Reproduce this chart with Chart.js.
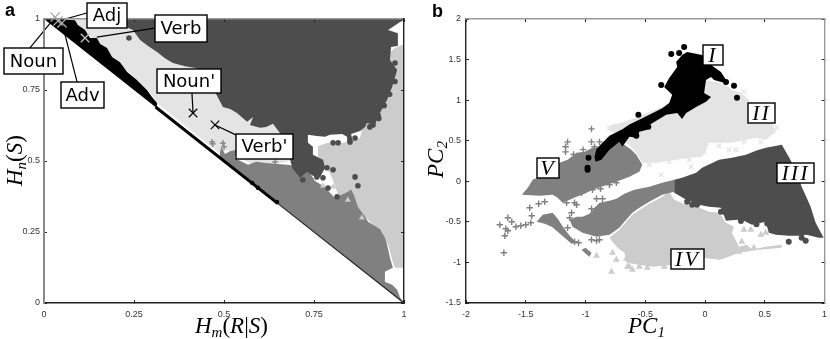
<!DOCTYPE html>
<html>
<head>
<meta charset="utf-8">
<style>
html,body{margin:0;padding:0;background:#fff;width:830px;height:339px;overflow:hidden}
canvas{position:absolute;top:0}
#ca{left:0}
#cb{left:420px}
</style>
<script src="https://cdn.jsdelivr.net/npm/chart.js@4/dist/chart.umd.min.js"></script>
</head>
<body>
<canvas id="ca" width="420" height="339"></canvas>
<canvas id="cb" width="410" height="339"></canvas>
<script>
// ---------- Panel a: values (Hm(R|S), Hn(S)) ----------
const aTicksX = [0, 0.25, 0.5, 0.75, 1];
const aTicksY = [0, 0.25, 0.5, 0.75, 1];
const aRegionI = [[0,1],[.044,1],[.086,.996],[.094,.979],[.114,.961],[.128,.933],[.147,.933],[.156,.912],[.175,.898],[.189,.866],[.211,.848],[.231,.813],[.258,.785],[.286,.75],[.3,.725],[.314,.704],[.314,.686]];
const aStripI = [[.31,.69],[.65,.35]];
const aEdgeLine = [[.65,.35],[1,0]];
const aDotsI = [[.578,.423],[.594,.406],[.647,.356]];
const aRegionII = [[.078,1],[.461,1],[.461,.856],[.683,.627],[.711,.557],[.683,.5],[.636,.487],[.581,.487],[.536,.515],[.506,.539],[.492,.522],[.475,.539],[.314,.704],[.294,.743]];
const aRegionIII = [[.217,1],[.228,.972],[.247,.961],[.267,.926],[.289,.905],[.314,.884],[.336,.862],[.358,.845],[.392,.834],[.425,.827],[.45,.796],[.461,.775],[.481,.729],[.497,.69],[.517,.683],[.536,.669],[.564,.638],[.581,.655],[.572,.627],[.6,.617],[.617,.62],[.636,.631],[.661,.589],[.678,.539],[.689,.476],[.711,.441],[.731,.462],[.747,.448],[.767,.444],[.781,.476],[.775,.504],[.747,.522],[.747,.55],[.733,.564],[.733,.592],[.758,.588],[.781,.585],[.794,.592],[.828,.595],[.842,.585],[.842,.567],[.858,.567],[.853,.595],[.878,.606],[.892,.62],[.897,.634],[.919,.627],[.933,.669],[.953,.715],[.967,.761],[.981,.82],[.961,.856],[.964,.901],[.981,.905],[.983,.95],[.956,.961],[.989,.989],[1,.996],[1,1]];
const aDotsIII = [[.786,.476],[.803,.469],[.719,.434],[.758,.444],[.775,.441],[.789,.405],[.814,.374],[.864,.444],[.872,.413],[.817,.564],[.803,.564],[.85,.567],[.864,.581],[.914,.627],[.928,.662],[.236,.933],[.975,.845],[.975,.78],[.96,.735],[.945,.695],[.93,.65],[.905,.62]];
const aRegionIV = [[1,.912],[.975,.898],[.95,.87],[.95,.8],[.9,.66],[.883,.611],[.878,.581],[.831,.564],[.789,.564],[.761,.553],[.761,.518],[.786,.476],[.8,.441],[.817,.381],[.886,.311],[.933,.251],[.956,.205],[.967,.152],[.975,.124],[1,.124]];
const aTrianglesIV = [[.775,.413],[.803,.409],[.844,.363],[.869,.391],[.883,.3]];
const aRegionV = [[.487,.513],[.492,.55],[.503,.525],[.517,.534],[.536,.54],[.53,.51],[.567,.487],[.589,.497],[.617,.493],[.683,.486],[.711,.469],[.733,.469],[.753,.43],[.778,.41],[.808,.37],[.842,.39],[.853,.4],[.861,.38],[.872,.338],[.894,.3],[.9,.286],[.933,.261],[.947,.23],[.953,.205],[.961,.159],[.969,.124],[.947,.11],[.947,.075],[.967,.064],[.981,.047],[.989,.019],[1,0]];
const aCrossesV = [[.467,.567],[.497,.563],[.642,.497],[.469,.56],[.5,.55]];
const aWordsGrey = [[.031,1.007],[.039,.993],[.05,.986]];
const aWordsLight = [[.114,.933]];
const aWordsBlack = [[.414,.669],[.475,.627]];
const aLeaderNoun = [[.031,1.007],[-.039,.898]];
const aLeaderAdj = [[.039,.993],[.119,1.021]];
const aLeaderAdv = [[.05,.986],[.092,.778]];
const aLeaderVerb = [[.147,.936],[.308,.968]];
const aLeaderNounP = [[.414,.669],[.411,.739]];
const aLeaderVerbP = [[.475,.627],[.533,.592]];
const aLabelNames = ["Noun","Adj","Adv","Verb","Noun'","Verb'"];

// ---------- Panel b: values (PC1, PC2) ----------
const bTicksX = [-2,-1.5,-1,-0.5,0,0.5,1];
const bTicksY = [-1.5,-1,-0.5,0,0.5,1,1.5,2];
const bRegionI = [[-.925,.302],[-.908,.4],[-.8,.56],[-.692,.64],[-.633,.7],[-.492,.8],[-.358,.9],[-.3,.966],[-.275,1.065],[-.342,1.163],[-.3,1.274],[-.233,1.409],[-.242,1.471],[-.192,1.557],[-.15,1.594],[-.025,1.557],[.05,1.434],[.133,1.348],[.175,1.25],[.158,1.213],[.075,1.249],[.05,1.286],[.008,1.249],[-.008,1.089],[.05,1.04],[.008,.979],[-.075,.917],[-.158,.843],[-.192,.769],[-.233,.843],[-.325,.819],[-.467,.695],[-.483,.634],[-.55,.609],[-.567,.535],[-.633,.548],[-.692,.425],[-.717,.486],[-.8,.388],[-.867,.265],[-.917,.24]];
const bDotsI = [[-.175,1.656],[-.283,1.57],[-.217,1.582],[-.367,1.188],[-.558,.819],[.242,1.176],[.267,1.028],[-.975,.289],[-.983,.166],[-.983,.142],[-.475,.671],[-.575,.56],[.175,1.225]];
const bRegionII = [[.008,1.249],[.117,1.213],[.175,1.188],[.225,1.126],[.3,1.09],[.367,1.003],[.392,.843],[.492,.757],[.558,.72],[.592,.609],[.508,.511],[.425,.535],[.342,.511],[.225,.474],[.117,.474],[.033,.474],[0,.363],[-.025,.302],[-.133,.289],[-.242,.265],[-.408,.228],[-.525,.228],[-.575,.351],[-.658,.474],[-.717,.572],[-.817,.634],[-.783,.695],[-.675,.732],[-.217,1.003],[-.05,1.188]];
const bMarksII = [[.383,.302],[.45,.375],[.258,.388],[-.133,.265],[-.117,.179],[-.367,.08],[-.8,.659],[-.717,.671],[.2,.388],[.325,1.102],[.425,.88],[.533,.782],[.6,.659],[.467,.486],[.325,.486],[.117,.437],[-.008,.363],[-.3,.24],[-.467,.203]];
const bRegionIII = [[-.025,.166],[.117,.265],[.225,.289],[.342,.326],[.425,.375],[.508,.412],[.642,.449],[.7,.302],[.758,.142],[.808,-.068],[.85,-.203],[.883,-.314],[.925,-.511],[.992,-.695],[.95,-.695],[.85,-.659],[.783,-.671],[.7,-.671],[.592,-.659],[.533,-.634],[.508,-.499],[.392,-.535],[.325,-.486],[.267,-.474],[.175,-.486],[.133,-.326],[.033,-.314],[-.05,-.289],[-.158,-.228],[-.258,-.142],[-.258,.018],[-.192,.043],[-.075,.105]];
const bDotsIII = [[.7,-.745],[.808,-.695],[.842,-.732],[-.15,-.252],[-.108,-.289],[-.067,-.289],[.017,-.265],[.175,-.388],[.133,-.375],[.3,-.49],[.43,-.53],[.52,-.52]];
const bRegionIV = [[-.3,-.129],[-.258,-.228],[-.158,-.289],[-.05,-.326],[.033,-.375],[.117,-.388],[.175,-.511],[.242,-.56],[.225,-.634],[.283,-.806],[.35,-.782],[.392,-.843],[.508,-.806],[.642,-.782],[.642,-.819],[.45,-.843],[.283,-.88],[.175,-.942],[.117,-.966],[-.025,-.942],[-.05,-1.053],[-.258,-1.028],[-.442,-1.053],[-.55,-1.028],[-.658,-1.003],[-.675,-.88],[-.733,-.819],[-.8,-.696],[-.717,-.597],[-.608,-.412],[-.467,-.277],[-.358,-.191]];
const bTrianglesIV = [[-.908,-.917],[-.783,-1.114],[-.775,-.88],[-.742,-.966],[-.658,-.954],[-.633,-1.053],[-.65,-1.053],[-.608,-1.09],[-.483,-1.065],[.325,-.597],[.383,-.597],[.467,-.659],[.308,-.745],[.408,-.819],[.175,-.868],[.058,-.905],[.508,-.634],[.283,-.868],[-.342,-1.053],[-.55,-1.053]];
const bRegionVTop = [[-1.533,-.166],[-1.483,-.08],[-1.442,.018],[-1.383,.055],[-1.317,.117],[-1.217,.228],[-1.15,.265],[-1.075,.351],[-1.008,.363],[-.942,.412],[-.883,.412],[-.717,.572],[-.675,.449],[-.617,.388],[-.575,.326],[-.55,.265],[-.525,.203],[-.55,.117],[-.633,.055],[-.742,-.006],[-.842,-.055],[-.942,-.105],[-1.008,-.154],[-1.075,-.191],[-1.133,-.228],[-1.192,-.265],[-1.233,-.203],[-1.275,-.166],[-1.383,-.178]];
const bRegionVMain = [[-1.133,-.474],[-1.075,-.437],[-1.025,-.437],[-.967,-.4],[-.925,-.326],[-.883,-.265],[-.8,-.24],[-.742,-.215],[-.675,-.154],[-.592,-.105],[-.467,-.068],[-.358,-.018],[-.258,.018],[-.258,-.129],[-.358,-.166],[-.467,-.252],[-.55,-.326],[-.608,-.388],[-.675,-.499],[-.717,-.572],[-.8,-.659],[-.908,-.683],[-1.025,-.634],[-1.108,-.56]];
const bRegionVTail = [[-1.408,-.499],[-1.358,-.412],[-1.275,-.388],[-1.233,-.462],[-1.183,-.572],[-1.133,-.671],[-1.075,-.757],[-1.117,-.769],[-1.175,-.695],[-1.233,-.622],[-1.283,-.56],[-1.342,-.523]];
const bRegionVBlob = [[-1.033,-.843],[-1,-.819],[-.95,-.88],[-.967,-.929],[-1.008,-.88]];
const bCrossesV = [[-1.717,-.535],[-1.65,-.449],[-1.617,-.499],[-1.667,-.585],[-1.65,-.609],[-1.675,-.671],[-1.683,-.88],[-1.583,-.56],[-1.542,-.548],[-1.5,-.535],[-1.458,-.511],[-1.45,-.425],[-1.467,-.326],[-1.392,-.277],[-1.342,-.252],[-1.158,-.265],[-1.092,-.265],[-1.075,-.289],[-1.117,-.388],[-1.133,-.449],[-1.033,-.142],[-.942,-.105],[-.875,-.092],[-.8,-.043],[-.742,-.018],[-.908,-.215],[-.858,-.215],[-.95,-.339],[-.95,-.72],[-.908,-.732],[-.883,-.72],[-1.092,-.745],[-1.058,-.757],[-1.15,-.572],[-.95,.646],[-1.15,.486],[-1.167,.425],[-1.167,.363],[-.95,.486],[-.925,.425],[-.883,.486],[-1.383,.117],[-1.317,.166],[-1.1,.33],[-1.02,.39]];
const bLabelNames = ["I","II","III","IV","V"];

// ---------- Colours ----------
const COL_I = '#000000', COL_II = '#e4e4e4', COL_III = '#4d4d4d', COL_IV = '#cccccc', COL_V = '#808080';

const pts = arr => arr.map(([x, y]) => ({x, y}));
const polygon = (arr, color, order) => ({data: pts(arr), showLine: true, fill: 'shape', backgroundColor: color, borderWidth: 0, pointRadius: 0, tension: 0, order});
const line = (arr, color, width, order) => ({data: pts(arr), showLine: true, fill: false, borderColor: color, borderWidth: width, pointRadius: 0, tension: 0, order, clip: false});
const marks = (arr, style, radius, color, order, lineWidth) => ({data: pts(arr), showLine: false, pointStyle: style, pointRadius: radius, pointBackgroundColor: color, pointBorderColor: color, pointBorderWidth: lineWidth || 0, order, clip: false});

function axis(position, isX, min, max, values, showLabels, borderColor, borderWidth, size, pad) {
  return {
    type: 'linear', axis: isX ? 'x' : 'y', position, min, max,
    afterBuildTicks: s => { s.ticks = values.map(value => ({value})); },
    afterFit: s => {
      if (isX) s.height = size; else s.width = size;
      s.paddingLeft = s.paddingRight = s.paddingTop = s.paddingBottom = 0;
    },
    grid: {drawOnChartArea: false, drawTicks: true, tickLength: -3, tickColor: '#222', tickWidth: 1, z: 1},
    border: {display: true, color: borderColor, width: borderWidth, z: 2},
    ticks: {display: showLabels, autoSkip: false, maxRotation: 0, minRotation: 0, padding: pad, color: '#333',
      font: {family: '"Liberation Sans"', size: 9}, callback: v => String(v)}
  };
}

function drawMath(ctx, parts, x, y, size, rotated) {
  ctx.save();
  ctx.translate(x, y);
  if (rotated) ctx.rotate(-Math.PI / 2);
  ctx.fillStyle = '#000';
  ctx.textAlign = 'left';
  ctx.textBaseline = 'alphabetic';
  let cx = 0;
  parts.forEach(([text, style]) => {
    const sub = style === 'sub';
    const s = sub ? Math.round(size * 0.66) : size;
    const italic = style === 'up' ? '' : 'italic ';
    ctx.font = italic + s + 'px "Liberation Serif"';
    ctx.fillText(text, cx, sub ? 4 : 0);
    cx += ctx.measureText(text).width;
  });
  ctx.restore();
}

function drawBox(ctx, text, x0, y0, x1, y1, font, spacing) {
  ctx.save();
  ctx.fillStyle = '#fff';
  ctx.strokeStyle = '#000';
  ctx.lineWidth = 1.4;
  ctx.fillRect(x0, y0, x1 - x0, y1 - y0);
  ctx.strokeRect(x0, y0, x1 - x0, y1 - y0);
  ctx.fillStyle = '#000';
  ctx.font = font;
  ctx.textAlign = 'center';
  ctx.textBaseline = 'middle';
  if (spacing) ctx.letterSpacing = spacing;
  ctx.fillText(text, (x0 + x1) / 2, (y0 + y1) / 2 + 1);
  ctx.restore();
}

const SANS_LABEL = '18px "DejaVu Sans"';
const ROMAN_LABEL = 'italic 22px "Liberation Serif"';
const aBoxes = [[4,48,63,74],[87,3,127,28],[61,82,104,108],[155,15,207,42],[157,69,221,93],[236,134,293,159]];
const bBoxes = [[283,45,303,65],[328,103,355,123],[357,163,394,183],[251,249,284,269],[117,158,139,178]];

const annotateA = {id: 'annotateA', afterDraw(c) {
  const ctx = c.ctx;
  aLabelNames.forEach((t, i) => { const b = aBoxes[i]; drawBox(ctx, t, b[0], b[1], b[2], b[3], SANS_LABEL); });
  drawMath(ctx, [['H'],['m','sub'],['(','up'],['R'],['|','up'],['S'],[')','up']], 195, 333, 23, false);
  drawMath(ctx, [['H'],['n','sub'],['(','up'],['S'],[')','up']], 22, 186, 23, true);
  ctx.save();
  ctx.fillStyle = '#000';
  ctx.font = 'bold 18px "Liberation Sans"';
  ctx.textAlign = 'left';
  ctx.textBaseline = 'alphabetic';
  ctx.fillText('a', 5, 16);
  ctx.restore();
}};
const annotateB = {id: 'annotateB', afterDraw(c) {
  const ctx = c.ctx;
  bLabelNames.forEach((t, i) => { const b = bBoxes[i]; drawBox(ctx, t, b[0], b[1], b[2], b[3], ROMAN_LABEL, '2px'); });
  drawMath(ctx, [['PC'],['1','sub']], 208, 333, 23, false);
  drawMath(ctx, [['PC'],['2','sub']], 23, 178, 23, true);
  ctx.save();
  ctx.fillStyle = '#000';
  ctx.font = 'bold 18px "Liberation Sans"';
  ctx.textAlign = 'left';
  ctx.textBaseline = 'alphabetic';
  ctx.fillText('b', 12, 17);
  ctx.restore();
}};

const baseOptions = {responsive: false, animation: false, devicePixelRatio: 1,
  plugins: {legend: {display: false}, tooltip: {enabled: false}}, events: []};

new Chart(document.getElementById('ca'), {
  type: 'scatter',
  plugins: [annotateA],
  data: {datasets: [
    polygon(aRegionII, COL_II, 90),
    polygon(aRegionIV, COL_IV, 80),
    polygon(aRegionV, COL_V, 70),
    marks(aCrossesV, 'cross', 3, COL_V, 65, 1.3),
    marks(aTrianglesIV, 'triangle', 3.5, COL_IV, 62),
    polygon(aRegionIII, COL_III, 60),
    marks(aDotsIII, 'circle', 2.8, COL_III, 55),
    line(aEdgeLine, '#222', 1.2, 50),
    line(aStripI, COL_I, 3, 45),
    polygon(aRegionI, COL_I, 44),
    marks(aDotsI, 'circle', 2.2, COL_I, 43),
    line(aLeaderNoun, '#000', 1.2, 30),
    line(aLeaderAdj, '#000', 1.2, 30),
    line(aLeaderAdv, '#000', 1.2, 30),
    line(aLeaderVerb, '#000', 1.2, 30),
    line(aLeaderNounP, '#000', 1.2, 30),
    line(aLeaderVerbP, '#000', 1.2, 30),
    marks(aWordsLight, 'crossRot', 6, '#c8c8c8', 20, 1.2),
    marks(aWordsBlack, 'crossRot', 6, '#000', 20, 1.2),
    marks(aWordsGrey, 'crossRot', 6.5, '#aaaaaa', 10, 1.3)
  ]},
  options: {...baseOptions,
    layout: {padding: {left: 0, right: 16, top: 19, bottom: 0}},
    scales: {
      x: axis('bottom', true, 0, 1, aTicksX, true, '#222', 1.4, 36, 9),
      y: axis('left', false, 0, 1, aTicksY, true, '#888', 2, 44, 7),
      xTop: axis('top', true, 0, 1, aTicksX, false, '#999', 1.4, 0, 0),
      yRight: axis('right', false, 0, 1, aTicksY, false, '#222', 1.4, 0, 0)
    }
  }
});

new Chart(document.getElementById('cb'), {
  type: 'scatter',
  plugins: [annotateB],
  data: {datasets: [
    marks(bMarksII, 'crossRot', 3.2, COL_II, 92, 1.3),
    polygon(bRegionII, COL_II, 90),
    marks(bTrianglesIV, 'triangle', 4, COL_IV, 82),
    polygon(bRegionIV, COL_IV, 80),
    marks(bCrossesV, 'cross', 3.2, COL_V, 72, 1.4),
    polygon(bRegionVTop, COL_V, 70),
    polygon(bRegionVMain, COL_V, 70),
    polygon(bRegionVTail, COL_V, 70),
    polygon(bRegionVBlob, COL_V, 70),
    marks(bDotsIII, 'circle', 3, COL_III, 62),
    polygon(bRegionIII, COL_III, 60),
    polygon(bRegionI, COL_I, 44),
    marks(bDotsI, 'circle', 3, COL_I, 43)
  ]},
  options: {...baseOptions,
    layout: {padding: {left: 0, right: 4, top: 19, bottom: 0}},
    scales: {
      x: axis('bottom', true, -2, 1, bTicksX, true, '#222', 1.4, 36, 9),
      y: axis('left', false, -1.5, 2, bTicksY, true, '#222', 1.4, 46, 8),
      xTop: axis('top', true, -2, 1, bTicksX, false, '#999', 1.4, 0, 0),
      yRight: axis('right', false, -1.5, 2, bTicksY, false, '#999', 1.4, 0, 0)
    }
  }
});
</script>
</body>
</html>
